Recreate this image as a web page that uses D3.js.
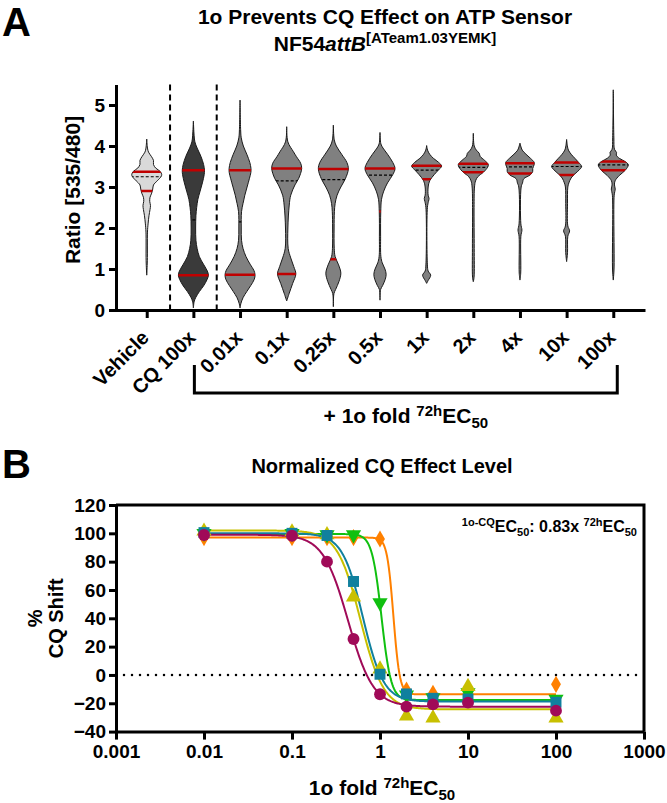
<!DOCTYPE html>
<html>
<head>
<meta charset="utf-8">
<script src="https://cdn.jsdelivr.net/npm/d3@7"></script>
<style>
  body { margin: 0; background: #fff; }
  svg { display: block; font-family: Arial, 'Liberation Sans', sans-serif; font-weight: bold; }
</style>
</head>
<body>
<svg id="chart" width="667" height="803"></svg>
<script>
/* ---------- PANEL A DATA ---------- */
const categories = ['Vehicle', 'CQ 100x', '0.01x', '0.1x', '0.25x', '0.5x', '1x', '2x', '4x', '10x', '100x'];
const ratioTicks = [0, 1, 2, 3, 4, 5];

// violin outlines: [ratio, relative half width]
const vehicleProfile = [[0.85,0],[1.2,0.04],[1.9,0.05],[2.1,0.09],[2.3,0.15],[2.45,0.22],[2.55,0.25],[2.65,0.2],[2.75,0.22],[2.85,0.33],[2.95,0.4],[3.05,0.45],[3.15,0.7],[3.25,0.95],[3.3,1.0],[3.38,0.9],[3.46,0.6],[3.55,0.45],[3.65,0.45],[3.75,0.3],[3.85,0.12],[3.95,0.05],[4.17,0]];
const cq100Profile = [[0.05,0],[0.2,0.05],[0.3,0.15],[0.45,0.4],[0.6,0.7],[0.75,0.92],[0.85,1.0],[0.95,0.93],[1.1,0.7],[1.3,0.4],[1.5,0.25],[1.7,0.17],[2.0,0.15],[2.3,0.17],[2.5,0.22],[2.7,0.3],[2.9,0.45],[3.1,0.6],[3.3,0.72],[3.41,0.74],[3.55,0.68],[3.75,0.5],[3.95,0.25],[4.1,0.1],[4.25,0.05],[4.61,0]];
const fold001Profile = [[0.05,0],[0.15,0.05],[0.3,0.2],[0.45,0.45],[0.6,0.72],[0.75,0.95],[0.86,1.0],[0.97,0.92],[1.1,0.7],[1.3,0.4],[1.5,0.2],[1.7,0.1],[2.0,0.08],[2.4,0.1],[2.6,0.2],[2.8,0.32],[3.0,0.47],[3.2,0.62],[3.35,0.72],[3.45,0.73],[3.6,0.65],[3.8,0.45],[4.0,0.22],[4.2,0.08],[4.4,0.04],[5.12,0]];
const fold01Profile = [[0.22,0],[0.41,0.17],[0.65,0.4],[0.88,0.61],[1.06,0.47],[1.27,0.27],[1.5,0.1],[2.0,0.08],[2.56,0.17],[2.8,0.27],[3.05,0.55],[3.21,0.8],[3.45,1.0],[3.58,0.93],[3.74,0.65],[3.86,0.45],[4.1,0.08],[4.47,0]];
const fold025Profile = [[0.08,0],[0.4,0.04],[0.5,0.15],[0.7,0.38],[0.9,0.5],[1.1,0.35],[1.3,0.12],[1.5,0.06],[2.0,0.05],[2.4,0.07],[2.6,0.12],[2.8,0.25],[3.0,0.5],[3.2,0.8],[3.44,1.0],[3.6,0.9],[3.8,0.55],[4.0,0.2],[4.15,0.06],[4.51,0]];
const fold05Profile = [[0.24,0],[0.5,0.04],[0.6,0.18],[0.75,0.35],[0.87,0.41],[1.0,0.33],[1.15,0.15],[1.3,0.06],[1.8,0.04],[2.4,0.05],[2.7,0.1],[2.9,0.25],[3.1,0.5],[3.3,0.85],[3.45,1.0],[3.6,0.85],[3.8,0.5],[3.95,0.2],[4.05,0.06],[4.33,0]];
const fold1Profile = [[0.65,0],[0.72,0.1],[0.85,0.27],[0.95,0.1],[1.1,0.05],[2.5,0.05],[2.65,0.12],[2.72,0.16],[2.8,0.1],[3.0,0.1],[3.15,0.2],[3.3,0.5],[3.42,0.8],[3.51,1.0],[3.6,0.8],[3.7,0.45],[3.8,0.2],[3.9,0.06],[4.01,0]];
const fold2Profile = [[0.69,0],[0.8,0.05],[1.5,0.06],[2.5,0.05],[3.0,0.08],[3.15,0.15],[3.25,0.3],[3.36,0.67],[3.48,0.95],[3.55,1.0],[3.65,0.75],[3.75,0.45],[3.82,0.4],[3.9,0.2],[4.0,0.06],[4.31,0]];
const fold4Profile = [[0.73,0],[0.9,0.05],[1.8,0.06],[1.95,0.13],[2.1,0.06],[3.0,0.08],[3.1,0.17],[3.2,0.25],[3.3,0.7],[3.38,0.85],[3.45,0.85],[3.55,0.95],[3.6,0.95],[3.7,0.7],[3.8,0.4],[3.9,0.15],[4.0,0.05],[4.07,0]];
const fold10Profile = [[1.18,0],[1.4,0.06],[1.8,0.08],[1.93,0.2],[2.05,0.08],[2.6,0.06],[3.0,0.08],[3.1,0.15],[3.22,0.3],[3.32,0.55],[3.42,0.85],[3.5,1.0],[3.6,0.8],[3.7,0.55],[3.8,0.3],[3.9,0.12],[4.0,0.05],[4.16,0]];
const fold100Profile = [[0.73,0],[1.0,0.05],[2.8,0.06],[2.95,0.13],[3.05,0.08],[3.15,0.12],[3.28,0.4],[3.41,0.8],[3.54,1.0],[3.62,0.8],[3.7,0.4],[3.78,0.2],[3.84,0.22],[3.92,0.08],[4.2,0.04],[5.37,0]];
const profiles = [vehicleProfile, cq100Profile, fold001Profile, fold01Profile, fold025Profile, fold05Profile,
                  fold1Profile, fold2Profile, fold4Profile, fold10Profile, fold100Profile];

const q1Vals     = [2.90, 0.85, 0.86, 0.88, 1.24, 2.40, 3.19, 3.36, 3.33, 3.29, 3.41];
const medianVals = [3.25, 2.20, 2.15, 3.15, 3.18, 3.29, 3.41, 3.48, 3.49, 3.50, 3.54];
const q3Vals     = [3.37, 3.41, 3.41, 3.45, 3.44, 3.45, 3.52, 3.57, 3.58, 3.60, 3.62];

/* ---------- PANEL B DATA ---------- */
const folds = [0.01, 0.1, 0.25, 0.5, 1, 2, 4, 10, 100];
const xTicksB = [0.001, 0.01, 0.1, 1, 10, 100, 1000];
const yTicksB = [-40, -20, 0, 20, 40, 60, 80, 100, 120];

const orangeShift  = [97, 97, 97, 97, 96, -10.6, -13, -13, -6.6];
const greenShift   = [100, 100, 99, 99, 51, -14, -16, -12.5, -17];
const yellowShift  = [101.5, 101, 99, 55, 4.2, -29, -30.5, -8.2, -30.4];
const tealShift    = [100.5, 100, 98.5, 66, 0.5, -13.4, -16.5, -17, -19.3];
const magentaShift = [98.8, 98.3, 80, 25.4, -13.6, -22.4, -20.8, -19.5, -25.2];

// four-parameter fit: top, bottom, EC50, hill
const fitTop    = [97, 99.5, 102, 100, 99];
const fitBottom = [-13.7, -17.7, -24.3, -18.8, -22.4];
const fitEC50   = [1.42, 1.04, 0.60, 0.64, 0.434];
const fitHill   = [12, 8, 3.3, 3.7, 3.05];

const seriesShift = [orangeShift, greenShift, yellowShift, tealShift, magentaShift];
const seriesColor = ['#ff8000', '#10c010', '#c8c000', '#10809e', '#a00a58'];
const seriesSymbol = [d3.symbolDiamond, d3.symbolTriangle, d3.symbolTriangle, d3.symbolSquare, d3.symbolCircle];
const seriesSize = [85, 100, 100, 120, 110];
const seriesRotate = [0, 180, 0, 0, 0];

const svg = d3.select('#chart');
const FONT = 'Arial, "Liberation Sans", sans-serif';

function styleAxis (g, size) {
    g.select('.domain').attr('stroke-width', 3);
    g.selectAll('.tick line').attr('stroke-width', 3);
    g.selectAll('text').attr('fill', '#000')
        .style('font-family', FONT)
        .style('font-weight', 'bold')
        .style('font-size', size + 'px');
}

// "lead ^sup EC_50"
function ecLabel (sel, lead, sup, small) {
    sel.append('tspan').text(lead);
    sel.append('tspan').attr('dy', -7).style('font-size', small).text(sup);
    sel.append('tspan').attr('dy', 7).text('EC');
    sel.append('tspan').attr('dy', 5).style('font-size', small).text('50');
}

/* ---------- PANEL A ---------- */
svg.append('text').attr('x', 2).attr('y', 36).style('font-size', '40px').text('A');

svg.append('text')
    .attr('x', 385).attr('y', 24)
    .attr('text-anchor', 'middle')
    .style('font-size', '21px')
    .text('1o Prevents CQ Effect on ATP Sensor');

const subTitle = svg.append('text')
    .attr('x', 385).attr('y', 51)
    .attr('text-anchor', 'middle')
    .style('font-size', '21px');
subTitle.append('tspan').text('NF54');
subTitle.append('tspan').style('font-style', 'italic').text('attB');
subTitle.append('tspan').attr('dy', -8).style('font-size', '15px').text('[ATeam1.03YEMK]');

const yA = d3.scaleLinear().domain([0, 5.5]).range([310, 84.5]);
const xA = d3.scalePoint().domain(categories).range([115, 645]).padding(0.68);
const halfW = d3.scaleLinear().domain([0, 1]).range([0, 15]);

const yAxisA = svg.append('g')
    .attr('transform', 'translate(116,0)')
    .call(d3.axisLeft(yA).tickValues(ratioTicks).tickFormat(d3.format('d'))
        .tickSize(7).tickSizeOuter(0).tickPadding(4));
styleAxis(yAxisA, 19);

const xAxisA = svg.append('g')
    .attr('transform', 'translate(0,310)')
    .call(d3.axisBottom(xA).tickSize(8).tickSizeOuter(0));
styleAxis(xAxisA, 20);
xAxisA.selectAll('text')
    .attr('y', null).attr('dy', null)
    .attr('text-anchor', 'end')
    .attr('transform', 'translate(3,29) rotate(-45)');

svg.append('text')
    .attr('transform', 'translate(80,190) rotate(-90)')
    .attr('text-anchor', 'middle')
    .style('font-size', '21px')
    .text('Ratio [535/480]');

// dashed separators between groups
[[categories[0], categories[1]], [categories[1], categories[2]]].forEach(pair => {
    const x = (xA(pair[0]) + xA(pair[1])) / 2;
    svg.append('line')
        .attr('x1', x).attr('x2', x)
        .attr('y1', yA(5.5)).attr('y2', yA(0))
        .attr('stroke', '#000').attr('stroke-width', 2)
        .attr('stroke-dasharray', '6,4');
});

const violinFill = ['#d9d9d9', '#3a3a3a', '#808080', '#808080', '#808080', '#808080', '#808080', '#808080', '#808080', '#808080', '#808080'];

categories.forEach((cat, i) => {
    const cx = xA(cat);
    const area = d3.area()
        .curve(d3.curveCatmullRom)
        .y(d => yA(d[0]))
        .x0(d => cx - halfW(d[1]))
        .x1(d => cx + halfW(d[1]));
    const pathD = area(profiles[i]);

    svg.append('clipPath').attr('id', 'vclip' + i)
        .append('path').attr('d', pathD);

    svg.append('path')
        .attr('d', pathD)
        .attr('fill', violinFill[i])
        .attr('stroke', '#1a1a1a')
        .attr('stroke-width', 1);

    const g = svg.append('g').attr('clip-path', `url(#vclip${i})`);
    g.append('line')
        .attr('x1', cx - 16).attr('x2', cx + 16)
        .attr('y1', yA(medianVals[i])).attr('y2', yA(medianVals[i]))
        .attr('stroke', '#000').attr('stroke-width', 1.2)
        .attr('stroke-dasharray', '3,2');
    [q1Vals[i], q3Vals[i]].forEach(q => {
        g.append('line')
            .attr('x1', cx - 16).attr('x2', cx + 16)
            .attr('y1', yA(q)).attr('y2', yA(q))
            .attr('stroke', '#c00000').attr('stroke-width', 2.5);
    });
});

// bracket under the 1o treatments
const bracketL = xA(categories[1]) + 1;
const bracketR = xA(categories[10]) + 4;
svg.append('path')
    .attr('d', `M${bracketL},365 V393 H${bracketR} V365`)
    .attr('fill', 'none').attr('stroke', '#000').attr('stroke-width', 3);

const bracketLabel = svg.append('text')
    .attr('x', (bracketL + bracketR) / 2).attr('y', 423)
    .attr('text-anchor', 'middle')
    .style('font-size', '21px');
ecLabel(bracketLabel, '+ 1o fold ', '72h', '15px');

/* ---------- PANEL B ---------- */
svg.append('text').attr('x', 2).attr('y', 478).style('font-size', '40px').text('B');
svg.append('text')
    .attr('x', 382).attr('y', 473)
    .attr('text-anchor', 'middle')
    .style('font-size', '20px')
    .text('Normalized CQ Effect Level');

const xB = d3.scaleLog().domain([0.001, 1000]).range([116, 644]);
const yB = d3.scaleLinear().domain([-40, 120]).range([731.6, 505]);

// frame
svg.append('path')
    .attr('d', `M${xB(0.001)},${yB(120)} H${xB(1000)} V${yB(-40)}`)
    .attr('fill', 'none').attr('stroke', '#000').attr('stroke-width', 3);

const yAxisB = svg.append('g')
    .attr('transform', `translate(${xB(0.001)},0)`)
    .call(d3.axisLeft(yB).tickValues(yTicksB).tickSize(7).tickSizeOuter(0).tickPadding(3));
styleAxis(yAxisB, 19);
const xAxisB = svg.append('g')
    .attr('transform', `translate(0,${yB(-40)})`)
    .call(d3.axisBottom(xB).tickValues(xTicksB).tickFormat(d3.format('~g')).tickSize(8).tickSizeOuter(0).tickPadding(5));
styleAxis(xAxisB, 19);

// zero reference
svg.append('line')
    .attr('x1', xB(0.001)).attr('x2', xB(1000))
    .attr('y1', yB(0)).attr('y2', yB(0))
    .attr('stroke', '#000').attr('stroke-width', 2.5)
    .attr('stroke-linecap', 'round')
    .attr('stroke-dasharray', '0,8');

const yTitleB = svg.append('text')
    .attr('transform', `translate(42,${(yB(120) + yB(-40)) / 2}) rotate(-90)`)
    .attr('text-anchor', 'middle')
    .style('font-size', '20px');
yTitleB.append('tspan').attr('x', 0).attr('dy', 0).text('%');
yTitleB.append('tspan').attr('x', 0).attr('dy', 21).text('CQ Shift');

const xTitleB = svg.append('text')
    .attr('x', 382).attr('y', 795)
    .attr('text-anchor', 'middle')
    .style('font-size', '21px');
ecLabel(xTitleB, '1o fold ', '72h', '15px');

const note = svg.append('text')
    .attr('x', 637).attr('y', 532)
    .attr('text-anchor', 'end')
    .style('font-size', '16px');
note.append('tspan').attr('dy', -6).style('font-size', '11px').text('1o-CQ');
note.append('tspan').attr('dy', 6).text('EC');
note.append('tspan').attr('dy', 4).style('font-size', '11px').text('50');
note.append('tspan').attr('dy', -4).text(': 0.83x ');
note.append('tspan').attr('dy', -6).style('font-size', '11px').text('72h');
note.append('tspan').attr('dy', 6).text('EC');
note.append('tspan').attr('dy', 4).style('font-size', '11px').text('50');

// fitted curves
const line = d3.line().x(d => xB(d[0])).y(d => yB(d[1]));
const logStart = Math.log10(folds[0]);
const logEnd = Math.log10(folds[folds.length - 1]);

seriesShift.forEach((vals, s) => {
    const pts = d3.range(0, 401).map(k => {
        const x = Math.pow(10, logStart + (logEnd - logStart) * k / 400);
        const y = fitBottom[s] + (fitTop[s] - fitBottom[s]) / (1 + Math.pow(x / fitEC50[s], fitHill[s]));
        return [x, y];
    });
    svg.append('path')
        .attr('d', line(pts))
        .attr('fill', 'none')
        .attr('stroke', seriesColor[s])
        .attr('stroke-width', 2);
});

// markers
seriesShift.forEach((vals, s) => {
    svg.append('g').selectAll('path')
        .data(vals.map((v, k) => [folds[k], v]))
        .enter().append('path')
        .attr('d', d3.symbol().type(seriesSymbol[s]).size(seriesSize[s]))
        .attr('transform', d => `translate(${xB(d[0])},${yB(d[1])}) rotate(${seriesRotate[s]})`)
        .attr('fill', seriesColor[s]);
});
</script>
</body>
</html>
